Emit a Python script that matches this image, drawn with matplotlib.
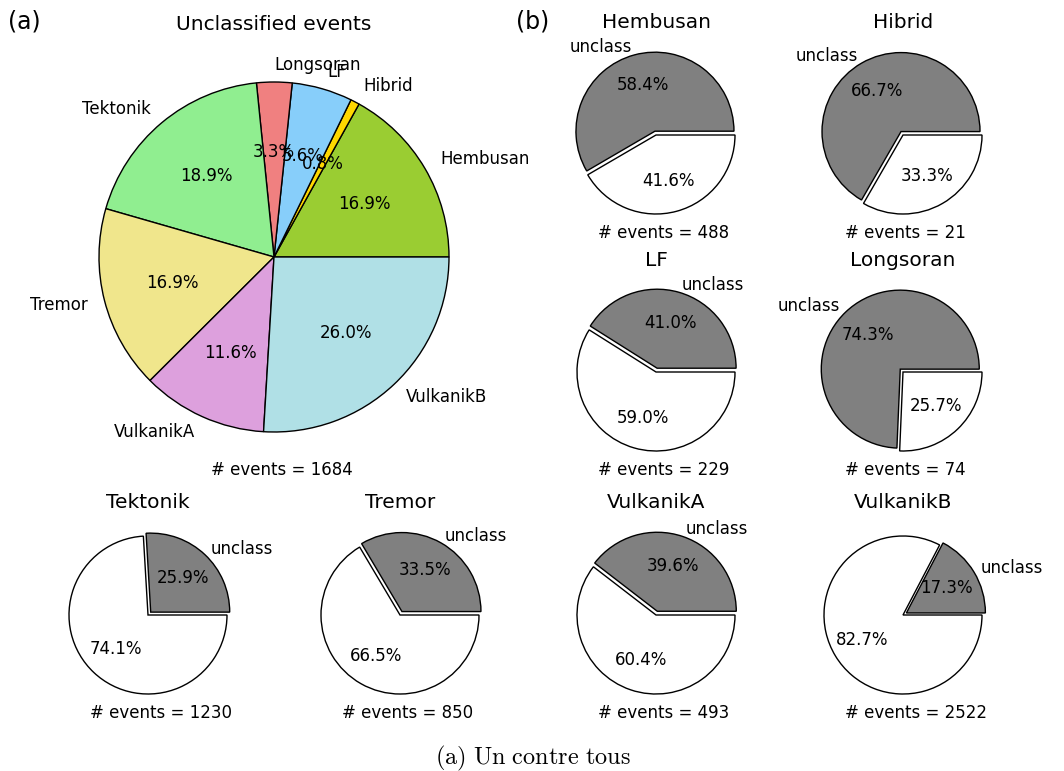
import matplotlib
matplotlib.use("Agg")
import matplotlib.pyplot as plt

plt.rcParams['font.family'] = ['DejaVu Sans']
plt.rcParams['mathtext.fontset'] = 'cm'

# ---- data ----
categories = ["Hembusan", "Hibrid", "LF", "Longsoran", "Tektonik", "Tremor", "VulkanikA", "VulkanikB"]
unclassified = [285, 14, 94, 55, 319, 285, 195, 437]       # unclassified events per class
total_events = [488, 21, 229, 74, 1230, 850, 493, 2522]    # events per class
big_colors = ["yellowgreen", "gold", "lightskyblue", "lightcoral",
              "lightgreen", "khaki", "plum", "powderblue"]
big_title = "Unclassified events"
caption = r"$\mathrm{(a)\ Un\ contre\ tous}$"

W, H = 1064, 771
fig = plt.figure(figsize=(W / 100, H / 100), dpi=100)


def fx(x):
    return x / W


def fy(y):
    return 1 - y / H


def make_ax(cx, cy, r, lim=1.3):
    side = 2 * lim * r
    ax = fig.add_axes([fx(cx - lim * r), fy(cy + lim * r), side / W, side / H])
    return ax


def finish(ax, lim=1.3):
    ax.set_xlim(-lim, lim)
    ax.set_ylim(-lim, lim)
    ax.set_aspect('equal')
    ax.axis('off')


# ---- big pie ----
bcx, bcy, br = 274, 257, 175
ax = make_ax(bcx, bcy, br)
total_unclass = sum(unclassified)
ax.pie(unclassified, labels=categories, colors=big_colors, autopct='%1.1f%%',
       startangle=0, counterclock=True,
       wedgeprops=dict(edgecolor='black', linewidth=1.0),
       textprops=dict(fontsize=12))
finish(ax)
fig.text(fx(bcx), fy(24), big_title, ha='center', va='center', fontsize=14.5)
fig.text(fx(bcx - 63), fy(470), f"# events = {total_unclass}", ha='left', va='center', fontsize=12)

# ---- small pies ----
col_x = [148, 400, 656, 903]
row_y = [135, 372, 615]
slots = [(0, 2), (0, 3), (1, 2), (1, 3), (2, 0), (2, 1), (2, 2), (2, 3)]
sr = 79
for i, name in enumerate(categories):
    row, col = slots[i]
    cx, cy = col_x[col], row_y[row]
    ax = make_ax(cx, cy, sr)
    vals = [unclassified[i], total_events[i] - unclassified[i]]
    ax.pie(vals, labels=["unclass", ""], colors=["gray", "white"], autopct='%1.1f%%',
           startangle=0, explode=[0.05, 0.0],
           wedgeprops=dict(edgecolor='black', linewidth=1.0),
           textprops=dict(fontsize=12))
    finish(ax)
    fig.text(fx(cx), fy(cy - 112), name, ha='center', va='center', fontsize=14.5)
    fig.text(fx(cx - 58), fy(cy + 98), f"# events = {total_events[i]}",
             ha='left', va='center', fontsize=12)

fig.text(fx(8), fy(21), "(a)", ha='left', va='center', fontsize=17)
fig.text(fx(516), fy(21), "(b)", ha='left', va='center', fontsize=17)
fig.text(fx(533), fy(758), caption, ha='center', va='center', fontsize=17.5)

fig.savefig("out.png", dpi=100, facecolor='white')
